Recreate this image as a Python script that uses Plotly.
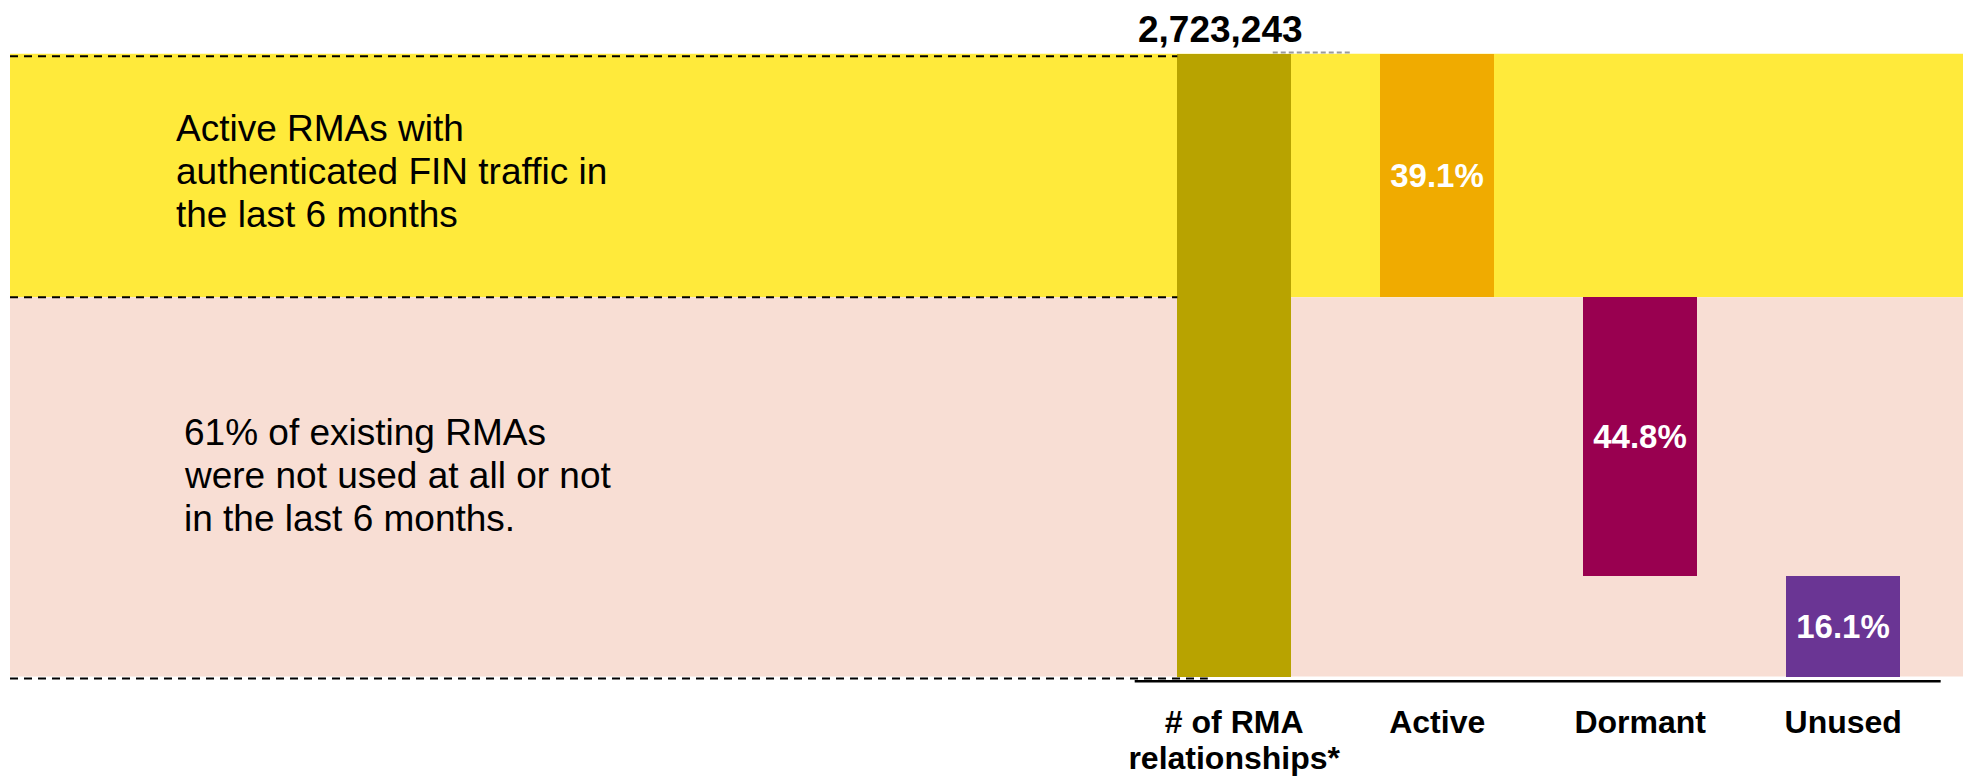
import plotly.graph_objects as go

# ---- data ----
categories = ["Total", "Active", "Dormant", "Unused"]
tick_names = ["# of RMA<br>relationships*", "Active", "Dormant", "Unused"]
total_rma = 2723243
share_active = 39.1
share_dormant = 44.8
share_unused = 16.1
bar_colors = ["#B8A300", "#F0AB00", "#990050", "#6A3594"]
band_colors = {"active": "#FFEA3B", "inactive": "#F8DED4"}
active_text = ["Active RMAs with", "authenticated FIN traffic in", "the last 6 months"]
inactive_text = ["61% of existing RMAs", "were not used at all or not", "in the last 6 months."]

# floating bar heights / bases derived from shares
heights = [100.0, share_active, share_dormant, share_unused]
bases = [0.0, share_unused + share_dormant, share_unused, 0.0]
bar_text = ["", f"{share_active:.1f}%", f"{share_dormant:.1f}%", f"{share_unused:.1f}%"]
split = share_unused + share_dormant

FONT = "Liberation Sans, Arial, sans-serif"
XRANGE = [-6.03, 3.59]
YRANGE = [-1.2, 100.6]
BAR_W = 0.56

# tick labels: big glyphs, tighter line spacing (spacing follows the tick font size)
tick_labels = ['<span style="font-size:32px"><b>' + "</b><br><b>".join(t.split("<br>")) + "</b></span>"
               if "<br>" in t else f'<span style="font-size:32px"><b>{t}</b></span>' for t in tick_names]

fig = go.Figure()
fig.add_trace(go.Bar(
    x=categories, y=heights, base=bases, width=BAR_W,
    marker=dict(color=bar_colors, line=dict(width=0)),
    text=bar_text, textposition="inside", insidetextanchor="middle",
    textfont=dict(family=FONT, size=33, color="white", weight="bold"),
    constraintext="none", cliponaxis=False, hoverinfo="skip",
))

shapes = []
# background bands
shapes.append(dict(type="rect", xref="paper", yref="y", x0=0, x1=1, y0=split, y1=100,
                   fillcolor=band_colors["active"], line=dict(width=0), layer="below"))
shapes.append(dict(type="rect", xref="paper", yref="y", x0=0, x1=1, y0=0, y1=split,
                   fillcolor=band_colors["inactive"], line=dict(width=0), layer="below"))
# dashed guide lines to the total bar
left_edge = 0 - BAR_W / 2
dash = dict(color="black", width=2, dash="8px,6px")
shapes.append(dict(type="line", xref="x", yref="y", x0=XRANGE[0], x1=left_edge, y0=99.6, y1=99.6,
                   line=dash, layer="above"))
shapes.append(dict(type="line", xref="x", yref="y", x0=XRANGE[0], x1=left_edge, y0=split, y1=split,
                   line=dash, layer="above"))
shapes.append(dict(type="line", xref="x", yref="y", x0=XRANGE[0], x1=-0.13, y0=-0.3, y1=-0.3,
                   line=dash, layer="above"))
# short grey dashed stub right of the total bar
shapes.append(dict(type="line", xref="x", yref="y", x0=0.19, x1=0.57, y0=100.2, y1=100.2,
                   line=dict(color="#9a9a9a", width=2, dash="5px,3px"), layer="above"))
# baseline
shapes.append(dict(type="line", xref="x", yref="y", x0=-0.49, x1=3.48, y0=-0.75, y1=-0.75,
                   line=dict(color="black", width=2.5), layer="above"))

annotations = []
annotations.append(dict(x=categories[0], y=100, xref="x", yref="y", text=f"<b>{total_rma:,}</b>",
                        showarrow=False, yanchor="bottom", xshift=-14, yshift=2,
                        font=dict(family=FONT, size=37, color="black")))
x_left1 = XRANGE[0] + (174 - 10) / 203
x_left2 = XRANGE[0] + (182 - 10) / 203
for i, line in enumerate(active_text):
    annotations.append(dict(x=x_left1, y=81.1 - (i - 1) * 6.9, xref="x", yref="y", text=line,
                            showarrow=False, xanchor="left", yanchor="middle",
                            font=dict(family=FONT, size=37, color="black")))
for i, line in enumerate(inactive_text):
    annotations.append(dict(x=x_left2, y=32.3 - (i - 1) * 6.9, xref="x", yref="y", text=line,
                            showarrow=False, xanchor="left", yanchor="middle",
                            font=dict(family=FONT, size=37, color="black")))

fig.update_layout(
    width=1963, height=778,
    margin=dict(l=10, r=0, t=50.3, b=93.5, autoexpand=False),
    paper_bgcolor="white", plot_bgcolor="white",
    showlegend=False, bargap=0,
    shapes=shapes, annotations=annotations,
    font=dict(family=FONT, color="black"),
)
fig.update_xaxes(type="category", range=XRANGE, tickmode="array", tickvals=categories,
                 ticktext=tick_labels, showgrid=False, zeroline=False, showline=False,
                 ticks="", ticklabelstandoff=20, automargin=False,
                 tickfont=dict(family=FONT, size=28, color="black"))
fig.update_yaxes(range=YRANGE, visible=False, showgrid=False, zeroline=False, automargin=False)

fig.write_html(
    "out.html",
    config={"displayModeBar": False},
    post_script="document.body.style.margin='0';document.body.style.overflow='hidden';",
)
